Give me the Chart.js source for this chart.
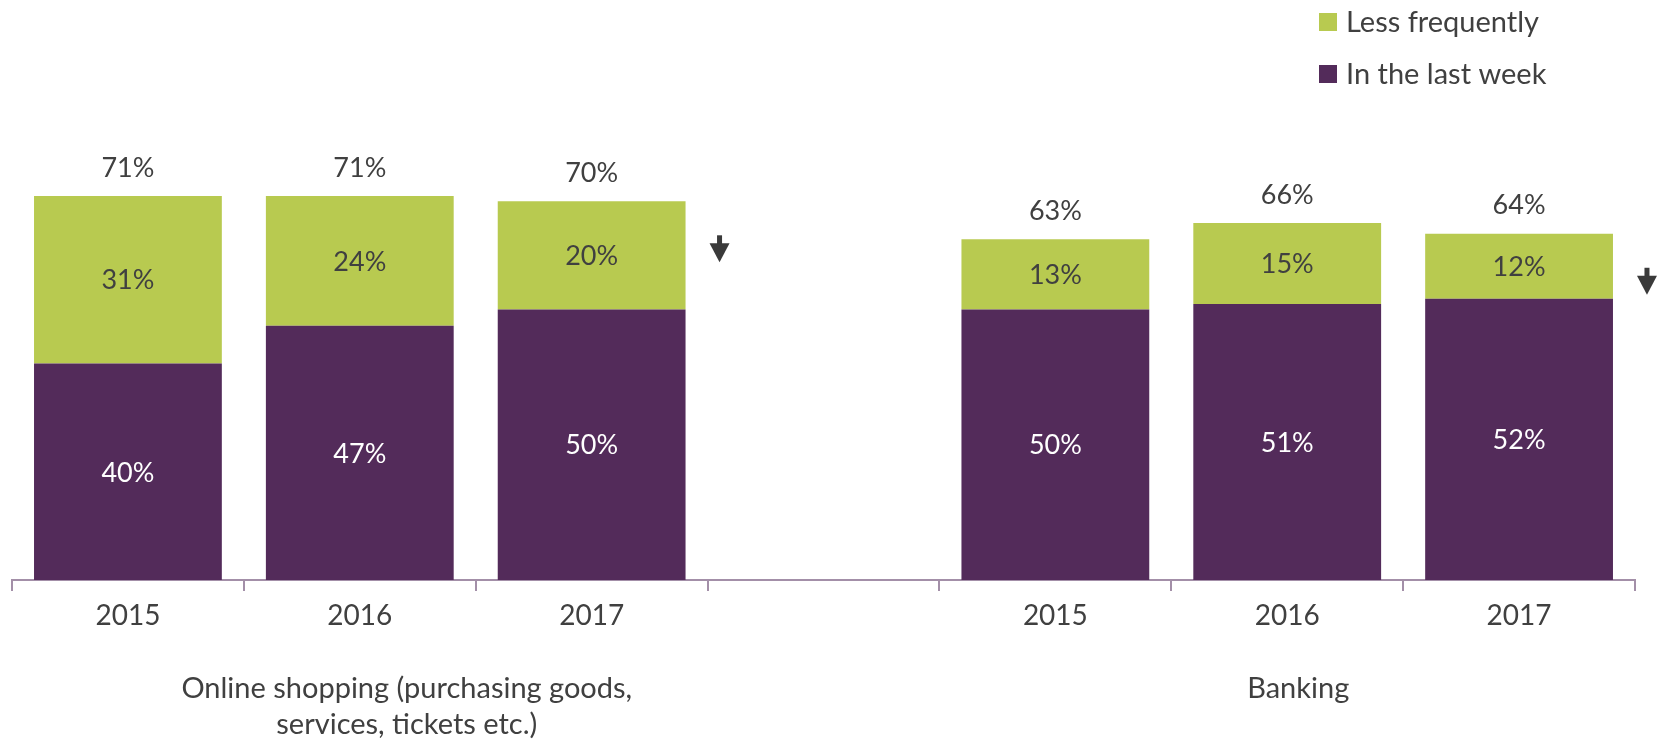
<!DOCTYPE html>
<html>
<head>
<meta charset="utf-8">
<script src="https://cdn.jsdelivr.net/npm/chart.js@4/dist/chart.umd.min.js"></script>
<style>
  html, body { margin: 0; padding: 0; background: #fff; }
  #wrap { width: 1669px; height: 743px; position: relative; }
</style>
</head>
<body>
<div id="wrap"><canvas id="chart"></canvas></div>
<script>
// data
const years = ["2015", "2016", "2017", "", "2015", "2016", "2017"];
const lastWeek = [40, 47, 50, null, 50, 51, 52];
const lessOften = [31, 24, 20, null, 13, 15, 12];
const totals = [71, 71, 70, null, 63, 66, 64];
const groupNames = [["Online shopping (purchasing goods,", "services, tickets etc.)"], ["Banking"]];
const downArrows = [2, 6]; // categories with a decrease marker

const PURPLE = "#532b5a";
const GREEN = "#b8ca50";
const TEXT = "#404040";
const AXIS = "#a38fa8";
const FONT = "Lato, 'Open Sans', sans-serif";

const labelsPlugin = {
  id: "labels",
  afterDatasetsDraw(chart) {
    const ctx = chart.ctx;
    ctx.save();
    ctx.font = "27px " + FONT;
    ctx.textAlign = "center";
    ctx.textBaseline = "middle";
    chart.data.datasets.forEach((ds, di) => {
      const meta = chart.getDatasetMeta(di);
      meta.data.forEach((bar, i) => {
        if (ds.data[i] == null) return;
        const mid = (bar.y + bar.base) / 2;
        ctx.fillStyle = di == 0 ? "#ffffff" : TEXT;
        ctx.fillText(ds.data[i] + "%", bar.x, mid + 1);
      });
    });
    // totals above the stacks
    const top = chart.getDatasetMeta(1);
    top.data.forEach((bar, i) => {
      if (totals[i] == null) return;
      ctx.fillStyle = TEXT;
      ctx.fillText(totals[i] + "%", bar.x, bar.y - 28);
    });
    // down arrows
    ctx.fillStyle = "#3a3a3a";
    downArrows.forEach(i => {
      const bar = top.data[i];
      const cx = bar.x + bar.width / 2 + 34;
      const y0 = bar.y + 34;
      ctx.fillRect(cx - 2.5, y0, 5, 10);
      ctx.beginPath();
      ctx.moveTo(cx - 10, y0 + 8);
      ctx.lineTo(cx + 10, y0 + 8);
      ctx.lineTo(cx, y0 + 27);
      ctx.closePath();
      ctx.fill();
    });
    ctx.restore();
  }
};

const extrasPlugin = {
  id: "extras",
  afterDraw(chart) {
    const ctx = chart.ctx;
    const x = chart.scales.x;
    ctx.save();
    ctx.font = "29px " + FONT;
    ctx.fillStyle = TEXT;
    ctx.textBaseline = "alphabetic";
    ctx.textAlign = "center";
    // group names under the years
    const c1 = (x.getPixelForValue(0) + x.getPixelForValue(2)) / 2 + 47;
    const c2 = (x.getPixelForValue(4) + x.getPixelForValue(6)) / 2 + 11;
    ctx.fillText(groupNames[0][0], c1, 698);
    ctx.fillText(groupNames[0][1], c1, 734);
    ctx.fillText(groupNames[1][0], c2, 698);
    // legend, top right
    const items = [[GREEN, "Less frequently"], [PURPLE, "In the last week"]];
    ctx.textAlign = "left";
    ctx.textBaseline = "middle";
    items.forEach((it, k) => {
      const cy = 22 + k * 52;
      ctx.fillStyle = it[0];
      ctx.fillRect(1319, cy - 9, 18, 18);
      ctx.fillStyle = TEXT;
      ctx.fillText(it[1], 1346, cy + 1);
    });
    ctx.restore();
  }
};

new Chart(document.getElementById("chart"), {
  type: "bar",
  data: {
    labels: years,
    datasets: [
      { label: "In the last week", data: lastWeek, backgroundColor: PURPLE },
      { label: "Less frequently", data: lessOften, backgroundColor: GREEN }
    ]
  },
  options: {
    responsive: true,
    maintainAspectRatio: false,
    animation: false,
    layout: { padding: { left: 12, right: 34, top: 39, bottom: 0 } },
    datasets: { bar: { categoryPercentage: 1, barPercentage: 0.81 } },
    plugins: {
      legend: { display: false },
      tooltip: { enabled: false }
    },
    scales: {
      x: {
        stacked: true,
        grid: { offset: true, drawOnChartArea: false, drawTicks: true, tickLength: 11, color: AXIS, lineWidth: 2 },
        border: { display: true, color: AXIS, width: 2 },
        ticks: { color: TEXT, font: { family: FONT, size: 28 }, padding: 8, maxRotation: 0, autoSkip: false },
        afterFit(scale) { scale.height = 163; }
      },
      y: {
        stacked: true,
        display: false,
        min: 0,
        max: 100
      }
    }
  },
  plugins: [labelsPlugin, extrasPlugin]
});
</script>
</body>
</html>
